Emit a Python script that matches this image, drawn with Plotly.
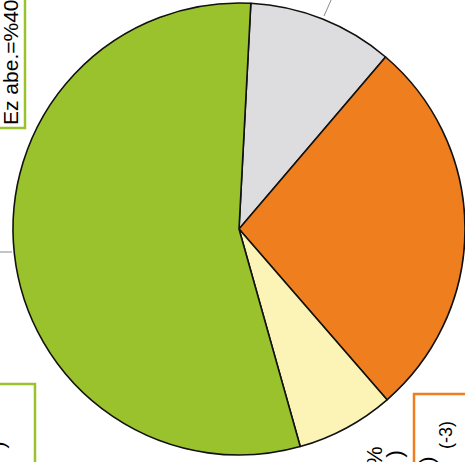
import plotly.graph_objects as go

# Slice data (clockwise from just right of 12 o'clock)
categories = ["Ez abe.", "Bai", "Ez daki", "Ez"]
shares = [10.4, 27.4, 7.0, 55.2]
slice_colors = ["#DDDDDF", "#EE7E1E", "#FCF4B6", "#9AC22C"]

W, H = 465, 462


def px(x):
    return x / W


def py(y):
    return 1 - y / H


fig = go.Figure(
    go.Pie(
        labels=categories,
        values=shares,
        sort=False,
        direction="clockwise",
        rotation=3,
        marker=dict(colors=slice_colors, line=dict(color="#111111", width=1.6)),
        textinfo="none",
        hoverinfo="label+percent",
        showlegend=False,
        domain=dict(x=[px(13), px(465)], y=[py(455), py(3)]),
    )
)

green_box = "#9AC22C"
orange_box = "#EE7E1E"
leader = "#8A8A8A"

shapes = [
    # label frames
    dict(type="rect", xref="paper", yref="paper",
         x0=px(-20), x1=px(25), y0=py(128), y1=py(-20),
         line=dict(color=green_box, width=2.5), fillcolor="rgba(0,0,0,0)"),
    dict(type="rect", xref="paper", yref="paper",
         x0=px(-20), x1=px(35), y0=py(490), y1=py(384),
         line=dict(color=green_box, width=2.5), fillcolor="rgba(0,0,0,0)"),
    dict(type="rect", xref="paper", yref="paper",
         x0=px(414), x1=px(490), y0=py(490), y1=py(394),
         line=dict(color=orange_box, width=2.5), fillcolor="rgba(0,0,0,0)"),
    # leader lines
    dict(type="line", xref="paper", yref="paper",
         x0=px(332), y0=py(-2), x1=px(324), y1=py(16),
         line=dict(color=leader, width=1)),
    dict(type="line", xref="paper", yref="paper",
         x0=px(-2), y0=py(252), x1=px(12), y1=py(252),
         line=dict(color=leader, width=1)),
]

font = "Liberation Sans, Arial, sans-serif"
ink = "#000000"


def label(text, x, y, size, yanchor):
    return dict(text=text, xref="paper", yref="paper", x=px(x), y=py(y),
                xanchor="center", yanchor=yanchor, textangle=-90,
                showarrow=False, font=dict(family=font, size=size, color=ink))


annotations = [
    label("Ez abe.=%40", 10, 127, 21, "bottom"),
    label("(-3)", 446, 451, 18, "bottom"),
    label(")", 426, 455, 21, "top"),
    label("%", 374, 444, 22, "top"),
    label(")", 394, 449, 22, "top"),
    label(")", -3, 440, 21, "top"),
]

fig.update_layout(
    width=W, height=H,
    margin=dict(l=0, r=0, t=0, b=0),
    paper_bgcolor="white", plot_bgcolor="white",
    shapes=shapes, annotations=annotations,
)

fig.write_html("out.html")
